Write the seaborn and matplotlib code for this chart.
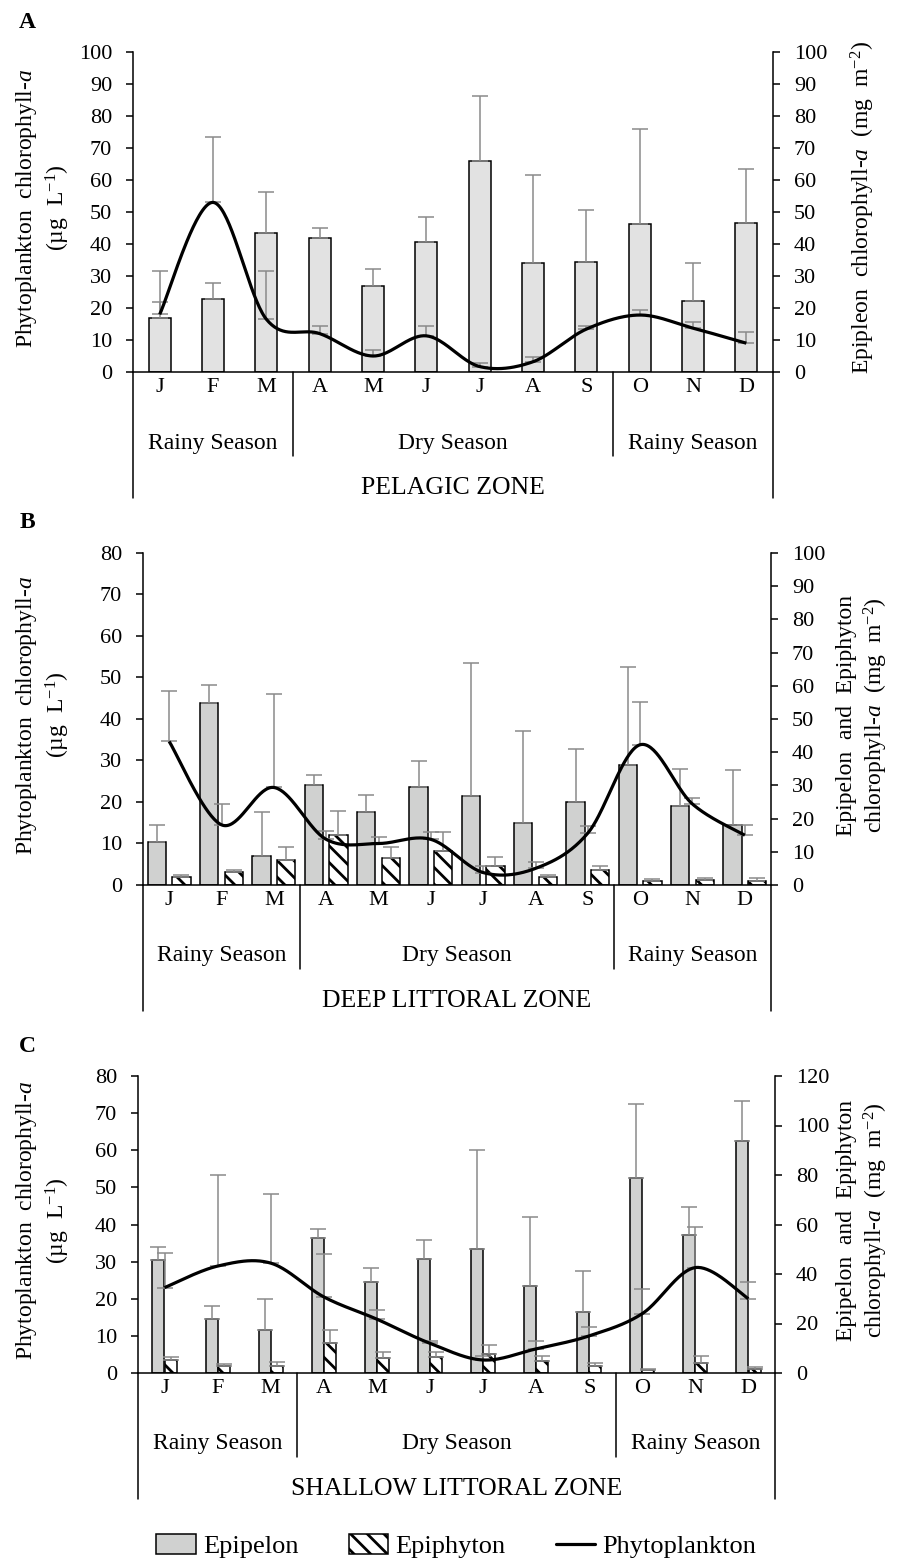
import numpy as np
import pandas as pd
import matplotlib
matplotlib.use("Agg")
import matplotlib.pyplot as plt
import seaborn as sns
from matplotlib.patches import Patch
from matplotlib.lines import Line2D

sns.set_theme(style="white")
plt.rcParams['font.family'] = ['Liberation Serif', 'DejaVu Serif']
plt.rcParams['mathtext.fontset'] = 'custom'
plt.rcParams['mathtext.rm'] = 'Liberation Serif'
plt.rcParams['mathtext.it'] = 'Liberation Serif:italic'
plt.rcParams['hatch.linewidth'] = 2.0
plt.rcParams['hatch.color'] = 'black'
for k in ['text.color', 'axes.labelcolor', 'xtick.color', 'ytick.color', 'axes.edgecolor']:
    plt.rcParams[k] = 'black'

# ---------------- data ----------------
month_keys = ["Jan", "Feb", "Mar", "Apr", "May", "Jun", "Jul", "Aug", "Sep", "Oct", "Nov", "Dec"]
month_labels = ["J", "F", "M", "A", "M", "J", "J", "A", "S", "O", "N", "D"]
season_labels = ["Rainy Season", "Dry Season", "Rainy Season"]
zone_labels = ["PELAGIC ZONE", "DEEP LITTORAL ZONE", "SHALLOW LITTORAL ZONE"]

# Panel A (pelagic)
a_epipelon = [16.8, 22.8, 43.3, 41.9, 27.0, 40.5, 66.0, 34.0, 34.5, 46.1, 22.3, 46.6]
a_epipelon_sd = [14.9, 5.1, 13.1, 3.1, 5.2, 7.9, 20.1, 27.6, 16.1, 29.9, 11.7, 16.8]
a_phyto = [18.0, 53.0, 16.5, 12.0, 5.0, 11.3, 1.7, 3.2, 13.4, 17.8, 13.7, 9.0]
a_phyto_sd = [4.0, 20.5, 15.2, 2.5, 1.9, 3.2, 1.1, 1.5, 1.1, 1.7, 2.0, 3.5]

# Panel B (deep littoral)
b_epipelon = [13.1, 54.8, 8.8, 30.0, 21.9, 29.4, 26.9, 18.8, 25.0, 36.0, 23.8, 18.1]
b_epipelon_sd = [5.0, 5.4, 13.1, 3.2, 5.2, 7.9, 40.0, 27.5, 15.9, 29.6, 11.1, 16.4]
b_epiphyton = [2.5, 4.0, 7.5, 15.0, 8.1, 10.3, 5.6, 2.5, 4.4, 1.3, 1.6, 1.3]
b_epiphyton_sd = [0.6, 0.6, 3.8, 7.3, 3.4, 5.6, 2.8, 0.6, 1.2, 0.5, 0.5, 0.7]
b_phyto = [34.6, 14.5, 23.5, 11.0, 10.0, 11.0, 3.0, 4.0, 12.5, 33.8, 19.5, 12.0]
b_phyto_sd = [12.1, 5.0, 22.5, 2.0, 1.5, 1.7, 1.5, 1.5, 1.8, 10.3, 1.5, 2.5]

# Panel C (shallow littoral)
c_epipelon = [45.6, 21.8, 17.3, 54.6, 36.8, 46.1, 49.9, 35.3, 24.8, 78.8, 55.9, 93.8]
c_epipelon_sd = [5.3, 5.2, 12.7, 3.4, 5.7, 7.8, 40.3, 27.7, 16.5, 29.9, 11.3, 16.0]
c_epiphyton = [5.3, 3.0, 3.0, 12.0, 6.0, 6.3, 7.5, 4.8, 3.0, 1.1, 4.2, 1.5]
c_epiphyton_sd = [1.2, 0.8, 1.5, 5.3, 2.3, 2.0, 3.8, 2.0, 1.2, 0.4, 2.6, 0.8]
c_phyto = [23.0, 28.8, 29.6, 20.5, 14.5, 8.0, 3.5, 6.5, 10.0, 16.0, 28.4, 20.0]
c_phyto_sd = [9.3, 24.4, 18.7, 11.5, 2.5, 0.5, 1.0, 2.0, 2.5, 6.5, 10.8, 4.5]

W, H = 909, 1565
fig = plt.figure(figsize=(W / 100, H / 100), dpi=100)


def smooth_curve(y, n=40):
    x = np.arange(len(y), dtype=float)
    P = np.column_stack([x, np.asarray(y, float)])
    Pe = np.vstack([P[0], P, P[-1]])
    t = np.linspace(0, 1, n)[:, None]
    out = []
    for i in range(len(P) - 1):
        p0, p1, p2, p3 = Pe[i], Pe[i + 1], Pe[i + 2], Pe[i + 3]
        c1 = p1 + (p2 - p0) / 6
        c2 = p2 - (p3 - p1) / 6
        seg = (1 - t) ** 3 * p1 + 3 * (1 - t) ** 2 * t * c1 + 3 * (1 - t) * t ** 2 * c2 + t ** 3 * p2
        out.append(seg if i == 0 else seg[1:])
    out = np.vstack(out)
    return out[:, 0], out[:, 1]


ERR_C = '#8a8a8a'
LBL = 16
YLAB = 17


def panel(box, letter, series, palette, width, gap, phyto, phyto_sd,
          right_max, right_step, left_max, left_ylabel, right_ylabel, zone):
    l, r, t, b = box
    ax = fig.add_axes([l / W, 1 - b / H, (r - l) / W, (b - t) / H])
    hpx = b - t
    rows = []
    for name, vals, _ in series:
        for k, v in zip(month_keys, vals):
            rows.append({"month": k, "value": v, "series": name})
    df = pd.DataFrame(rows)
    names = [s[0] for s in series]
    sns.barplot(data=df, x="month", y="value", hue="series", order=month_keys,
                hue_order=names, palette=palette, width=width, gap=gap,
                edgecolor="black", linewidth=1.1, errorbar=None, ax=ax,
                legend=False, saturation=1)
    for cont, (name, vals, sds) in zip(ax.containers, series):
        if name == "Epiphyton":
            for p in cont:
                p.set_hatch('\\\\')
                p.set_facecolor('white')
        xs = [p.get_x() + p.get_width() / 2 for p in cont]
        ax.errorbar(xs, vals, yerr=[np.zeros(len(vals)), sds], fmt='none',
                    ecolor=ERR_C, elinewidth=1.1, capsize=5.5, capthick=1.1, zorder=1)

    ax2 = ax.twinx()

    ax.set_xlim(-0.5, 11.5)
    ax.set_ylim(0, right_max)
    ax.set_yticks(np.arange(0, right_max + 0.1, right_step))
    ax.set_xlabel("")
    ax.set_ylabel("")
    ax.set_xticks(range(12))
    ax.set_xticklabels(month_labels)
    ax.yaxis.tick_right()
    ax.tick_params(axis='y', direction='out', length=5, width=1.1, labelsize=LBL, pad=10,
                   right=True, left=False, labelright=True, labelleft=False)
    ax.tick_params(axis='x', length=0, labelsize=LBL, pad=4)
    for s in ['top', 'left']:
        ax.spines[s].set_visible(False)
    for s in ['right', 'bottom']:
        ax.spines[s].set_color('black')
        ax.spines[s].set_linewidth(1.1)

    xs, ys = smooth_curve(phyto)
    ax2.plot(xs, ys, color='black', lw=2.3, solid_capstyle='butt', zorder=3)
    ax2.errorbar(range(12), phyto, yerr=[np.zeros(12), phyto_sd], fmt='none',
                 ecolor=ERR_C, elinewidth=1.1, capsize=5.5, capthick=1.1, zorder=2)
    ax2.set_ylim(0, left_max)
    ax2.set_yticks(np.arange(0, left_max + 0.1, 10))
    ax2.yaxis.tick_left()
    ax2.tick_params(axis='y', direction='out', length=5, width=1.1, labelsize=LBL, pad=10,
                    left=True, right=False, labelleft=True, labelright=False)
    for s in ['top', 'right', 'bottom']:
        ax2.spines[s].set_visible(False)
    ax2.spines['left'].set_color('black')
    ax2.spines['left'].set_linewidth(1.1)
    ax2.set_xlim(-0.5, 11.5)

    tr = ax.get_xaxis_transform()
    for x in [2.5, 8.5]:
        ax.plot([x, x], [0, -84 / hpx], transform=tr, clip_on=False, color='black', lw=1.1)
    for x in [-0.5, 11.5]:
        ax.plot([x, x], [0, -126 / hpx], transform=tr, clip_on=False, color='black', lw=1.1)
    for x, s in zip([1, 5.5, 10], season_labels):
        ax.text(x, -71 / hpx, s, transform=tr, ha='center', va='center', fontsize=17)
    ax.text(5.5, -116 / hpx, zone, transform=tr, ha='center', va='center', fontsize=18.5)

    fig.text(27 / W, 1 - (t - 30) / H, letter, fontweight='bold', fontsize=17,
             ha='center', va='center')
    cy = 1 - ((t + b) / 2 - 4) / H
    fig.text(43 / W, cy, left_ylabel, rotation=90, ha='center', va='center',
             multialignment='center', fontsize=YLAB, linespacing=1.2)
    fig.text(863 / W, cy, right_ylabel, rotation=90, ha='center', va='center',
             multialignment='center', fontsize=YLAB, linespacing=1.2)
    return ax


phyto_lbl = "Phytoplankton  chlorophyll-$\\mathit{a}$\n(µg  L$^{-1}$)"

panel((133, 773, 52, 372), "A",
      [("Epipelon", a_epipelon, a_epipelon_sd)], {"Epipelon": "#e2e2e2"},
      0.41, 0, a_phyto, a_phyto_sd, 100, 10, 100,
      phyto_lbl, "Epipleon  chlorophyll-$\\mathit{a}$  (mg  m$^{-2}$)", zone_labels[0])

panel((143, 771, 553, 885), "B",
      [("Epipelon", b_epipelon, b_epipelon_sd), ("Epiphyton", b_epiphyton, b_epiphyton_sd)],
      {"Epipelon": "#d0d1d0", "Epiphyton": "white"},
      0.94, 0.255, b_phyto, b_phyto_sd, 100, 10, 80,
      phyto_lbl, "Epipelon  and  Epiphyton\nchlorophyll-$\\mathit{a}$  (mg  m$^{-2}$)", zone_labels[1])

panel((138, 775, 1076, 1373), "C",
      [("Epipelon", c_epipelon, c_epipelon_sd), ("Epiphyton", c_epiphyton, c_epiphyton_sd)],
      {"Epipelon": "#d0d1d0", "Epiphyton": "white"},
      0.46, 0.02, c_phyto, c_phyto_sd, 120, 20, 80,
      phyto_lbl, "Epipelon  and  Epiphyton\nchlorophyll-$\\mathit{a}$  (mg  m$^{-2}$)", zone_labels[2])

handles = [Patch(facecolor="#d0d1d0", edgecolor="black", linewidth=1.1),
           Patch(facecolor="white", edgecolor="black", hatch='\\\\', linewidth=1.1),
           Line2D([0], [0], color='black', lw=2.3)]
fig.legend(handles, ["Epipelon", "Epiphyton", "Phytoplankton"], loc='center',
           bbox_to_anchor=(0.502, 1 - 1546 / H), ncol=3, frameon=False, fontsize=19,
           handlelength=1.5, handleheight=0.8, columnspacing=1.9, handletextpad=0.27)

fig.savefig("out.png", dpi=100)
